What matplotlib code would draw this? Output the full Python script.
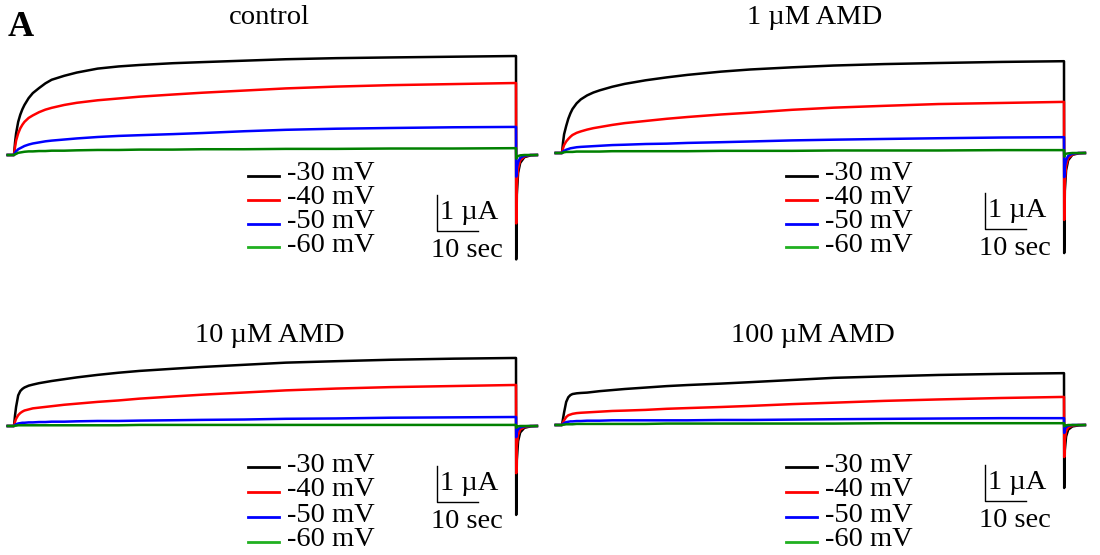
import numpy as np
import matplotlib
matplotlib.use('Agg')
import matplotlib.pyplot as plt
from matplotlib.lines import Line2D

plt.rcParams['font.family'] = ['Liberation Serif', 'DejaVu Serif']

# time grid (sec): step from 0 to 120 s, then tail current
time_s = [-1.5, 0, 0.25, 0.5, 1, 1.5, 2, 2.5, 3.5, 4.5, 6, 7.5, 9, 12, 15, 20, 25, 30,
          38, 45, 55, 65, 77, 90, 105, 120,
          120.05, 120.2, 120.5, 121, 122, 123.5, 125]

voltages = ['-30 mV', '-40 mV', '-50 mV', '-60 mV']
titles = ['control', '1 \u00b5M AMD', '10 \u00b5M AMD', '100 \u00b5M AMD']

# currents in uA, one list per voltage
control_30 = [0, 0, 0.35, 0.6, 0.92, 1.12, 1.27, 1.39, 1.58, 1.72, 1.86, 1.99, 2.09, 2.2, 2.29, 2.4,
              2.46, 2.5, 2.55, 2.58, 2.62, 2.66, 2.69, 2.71, 2.73, 2.75,
              -2.9, -1.1, -0.5, -0.22, -0.06, -0.01, 0]
control_40 = [0, 0, 0.22, 0.4, 0.6, 0.74, 0.84, 0.92, 1.03, 1.1, 1.19, 1.26, 1.31, 1.39, 1.45, 1.52,
              1.57, 1.62, 1.68, 1.73, 1.79, 1.85, 1.9, 1.94, 1.97, 2.0,
              -1.9, -0.8, -0.38, -0.15, -0.04, 0, 0]
control_50 = [0, 0, 0.06, 0.1, 0.16, 0.19, 0.22, 0.25, 0.29, 0.32, 0.35, 0.38, 0.4, 0.43, 0.46, 0.5,
              0.53, 0.55, 0.58, 0.61, 0.66, 0.7, 0.73, 0.75, 0.77, 0.78,
              -0.6, -0.35, -0.2, -0.08, -0.02, 0, 0]
control_60 = [0, 0, 0.02, 0.03, 0.06, 0.07, 0.08, 0.09, 0.1, 0.1, 0.11, 0.11, 0.12, 0.12, 0.13, 0.14,
              0.14, 0.15, 0.15, 0.16, 0.16, 0.17, 0.17, 0.18, 0.18, 0.19,
              -0.1, -0.06, -0.03, -0.01, 0, 0, 0]

amd1_30 = [0, 0, 0.3, 0.52, 0.75, 0.95, 1.1, 1.22, 1.38, 1.49, 1.6, 1.68, 1.74, 1.84, 1.92, 2.02,
           2.1, 2.17, 2.26, 2.32, 2.38, 2.43, 2.47, 2.5, 2.53, 2.55,
           -2.78, -1.05, -0.48, -0.2, -0.05, -0.01, 0]
amd1_40 = [0, 0, 0.13, 0.22, 0.32, 0.39, 0.45, 0.5, 0.56, 0.6, 0.65, 0.69, 0.72, 0.78, 0.83, 0.89,
           0.95, 1.0, 1.07, 1.12, 1.2, 1.26, 1.31, 1.36, 1.39, 1.42,
           -1.86, -0.78, -0.36, -0.14, -0.04, 0, 0]
amd1_50 = [0, 0, 0.04, 0.06, 0.09, 0.11, 0.13, 0.14, 0.16, 0.17, 0.18, 0.19, 0.2, 0.22, 0.23, 0.25,
           0.26, 0.28, 0.3, 0.32, 0.35, 0.37, 0.39, 0.41, 0.43, 0.44,
           -0.67, -0.38, -0.2, -0.08, -0.02, 0, 0]
amd1_60 = [0, 0, 0.01, 0.02, 0.03, 0.03, 0.03, 0.03, 0.04, 0.04, 0.04, 0.04, 0.04, 0.05, 0.05, 0.05,
           0.05, 0.05, 0.06, 0.06, 0.06, 0.07, 0.07, 0.07, 0.08, 0.08,
           -0.1, -0.05, -0.02, -0.01, 0, 0, 0]

amd10_30 = [0, 0, 0.3, 0.53, 0.85, 0.97, 1.03, 1.07, 1.12, 1.15, 1.19, 1.22, 1.25, 1.3, 1.35, 1.42,
            1.48, 1.53, 1.59, 1.64, 1.7, 1.76, 1.8, 1.84, 1.87, 1.89,
            -2.47, -0.95, -0.42, -0.18, -0.05, -0.01, 0]
amd10_40 = [0, 0, 0.12, 0.2, 0.3, 0.36, 0.4, 0.43, 0.46, 0.49, 0.51, 0.53, 0.55, 0.59, 0.62, 0.67,
            0.71, 0.76, 0.82, 0.87, 0.93, 0.99, 1.04, 1.08, 1.11, 1.14,
            -1.31, -0.55, -0.25, -0.1, -0.03, 0, 0]
amd10_50 = [0, 0, 0.03, 0.05, 0.07, 0.08, 0.09, 0.09, 0.1, 0.1, 0.11, 0.11, 0.12, 0.12, 0.13, 0.14,
            0.14, 0.15, 0.16, 0.17, 0.18, 0.2, 0.21, 0.23, 0.24, 0.25,
            -0.31, -0.18, -0.09, -0.04, -0.01, 0, 0]
amd10_60 = [0, 0, 0.01, 0.01, 0.02, 0.02, 0.02, 0.02, 0.02, 0.02, 0.02, 0.02, 0.02, 0.02, 0.02, 0.02,
            0.02, 0.03, 0.03, 0.03, 0.03, 0.03, 0.03, 0.03, 0.03, 0.03,
            -0.05, -0.03, -0.01, 0, 0, 0, 0]

amd100_30 = [0, 0, 0.18, 0.35, 0.64, 0.77, 0.83, 0.86, 0.88, 0.89, 0.9, 0.92, 0.94, 0.97, 1.0, 1.04,
             1.08, 1.11, 1.15, 1.19, 1.25, 1.31, 1.35, 1.39, 1.42, 1.44,
             -1.75, -0.7, -0.32, -0.13, -0.04, -0.01, 0]
amd100_40 = [0, 0, 0.07, 0.13, 0.22, 0.27, 0.29, 0.31, 0.33, 0.34, 0.35, 0.36, 0.37, 0.39, 0.4, 0.42,
             0.45, 0.47, 0.5, 0.53, 0.58, 0.62, 0.67, 0.71, 0.75, 0.78,
             -0.89, -0.4, -0.18, -0.07, -0.02, 0, 0]
amd100_50 = [0, 0, 0.03, 0.05, 0.08, 0.09, 0.1, 0.1, 0.11, 0.11, 0.12, 0.12, 0.12, 0.13, 0.13, 0.13,
             0.13, 0.13, 0.14, 0.14, 0.15, 0.16, 0.17, 0.18, 0.19, 0.19,
             -0.22, -0.12, -0.06, -0.02, 0, 0, 0]
amd100_60 = [0, 0, 0.01, 0.01, 0.02, 0.02, 0.02, 0.02, 0.03, 0.03, 0.03, 0.03, 0.03, 0.03, 0.03, 0.03,
             0.04, 0.04, 0.04, 0.04, 0.04, 0.04, 0.05, 0.05, 0.05, 0.05,
             -0.04, -0.02, -0.01, 0, 0, 0, 0]

W, H = 1100, 555
PX_PER_SEC = 502 / 120
PX_PER_UA = 36
XLIM = (-3, 128)
YLIM = (-3.3, 3.3)
trace_colors = ['black', '#ff0000', '#0000ff', '#008000']
legend_colors = ['black', '#ff0000', '#0000ff', '#20b020']
FS = 20.5

fig = plt.figure(figsize=(11, 5.55), dpi=100)


def fx(x):
    return x / W


def fy(y):
    return 1 - y / H


def add_panel(onset_px, base_px):
    left = onset_px + XLIM[0] * PX_PER_SEC
    width = (XLIM[1] - XLIM[0]) * PX_PER_SEC
    top = base_px - YLIM[1] * PX_PER_UA
    height = (YLIM[1] - YLIM[0]) * PX_PER_UA
    ax = fig.add_axes([left / W, 1 - (top + height) / H, width / W, height / H])
    ax.set_xlim(XLIM)
    ax.set_ylim(YLIM)
    ax.axis('off')
    return ax


# (traces, onset px, baseline px, title xy, legend line x0, x1, text x, first row y, row step)
panels = [
    ([control_30, control_40, control_50, control_60], 14, 155, (269, 18), 248, 279, 287, 176, 23.8),
    ([amd1_30, amd1_40, amd1_50, amd1_60], 562, 153, (815, 18), 786, 817, 825, 176, 23.8),
    ([amd10_30, amd10_40, amd10_50, amd10_60], 14, 426, (270, 336), 248, 279, 287, 467, 25),
    ([amd100_30, amd100_40, amd100_50, amd100_60], 562, 425, (813, 336), 786, 817, 825, 467, 25),
]

for title, (traces, onset, base, txy, lx0, lx1, tx, row0, step) in zip(titles, panels):
    ax = add_panel(onset, base)
    for vals, col in zip(traces, trace_colors):
        ax.plot(time_s, vals, color=col, lw=1.8, solid_joinstyle='round')

    # scale bar: 10 sec, 1 uA
    t0, i0 = 101, -2.1
    ax.plot([t0, t0, t0 + 10], [i0 + 1, i0, i0], color='black', lw=1)
    ax.text(t0 + 0.8, i0 + 0.5, '1 \u00b5A', fontsize=FS, ha='left', va='center')
    ax.text(t0 + 7.3, i0 - 0.55, '10 sec', fontsize=FS, ha='center', va='center')

    fig.text(fx(txy[0]), fy(txy[1]), title, fontsize=FS, ha='center', va='center')

    for k, (lab, col) in enumerate(zip(voltages, legend_colors)):
        y = row0 + k * step
        fig.add_artist(Line2D([fx(lx0), fx(lx1)], [fy(y), fy(y)],
                              transform=fig.transFigure, color=col, lw=2))
        fig.text(fx(tx), fy(y - 2), lab, fontsize=FS, ha='left', va='center')

fig.text(fx(8), fy(27), 'A', fontsize=26, fontweight='bold', ha='left', va='center')

fig.savefig('out.png', dpi=100)
